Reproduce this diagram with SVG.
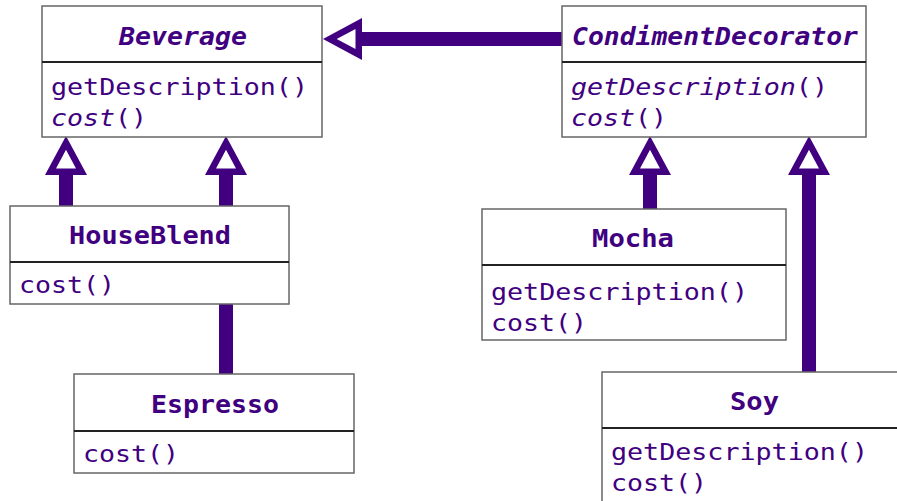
<svg xmlns="http://www.w3.org/2000/svg" width="897" height="501" viewBox="0 0 897 501">
<style>
.box{fill:#fff;stroke:#666;stroke-width:1.5}
.div{stroke:#222;stroke-width:2}
.t{font-family:"DejaVu Sans Mono","Liberation Mono",monospace;fill:#400080}
.title{font-size:24px;font-weight:bold}
.m{font-size:23px}
.i{font-style:italic}
.u{font-style:normal}
.edge{stroke:#400080;stroke-width:14;fill:none;marker-end:url(#gen)}
</style>
<defs>
<marker id="gen" markerUnits="userSpaceOnUse" orient="auto" refX="0" refY="0" markerWidth="44" markerHeight="46" overflow="visible">
<path d="M0,-21 L39,0 L0,21 Z" fill="#400080"/>
<path d="M6.5,-10 L25.3,0 L6.5,10 Z" fill="#fff"/>
</marker>
</defs>
<rect width="897" height="501" fill="#fff"/>
<g id="connectors">
<line class="edge" x1="562" y1="39" x2="362" y2="39"/>
<line class="edge" x1="66" y1="206" x2="66" y2="175"/>
<line class="edge" x1="226" y1="374" x2="226" y2="175"/>
<line class="edge" x1="650" y1="209" x2="650" y2="175"/>
<line class="edge" x1="809" y1="372" x2="809" y2="175"/>
</g>
<g id="Beverage">
<rect class="box" x="42" y="6" width="280" height="131"/>
<line class="div" x1="42" y1="62" x2="322" y2="62"/>
<text class="t title i" x="119" y="45" textLength="128" lengthAdjust="spacingAndGlyphs">Beverage</text>
<text class="t m" x="51" y="95" textLength="257" lengthAdjust="spacingAndGlyphs">getDescription()</text>
<text class="t m" x="51" y="126" textLength="96" lengthAdjust="spacingAndGlyphs"><tspan class="i">cost</tspan>()</text>
</g>
<g id="CondimentDecorator">
<rect class="box" x="562" y="6" width="304" height="131"/>
<line class="div" x1="562" y1="62" x2="866" y2="62"/>
<text class="t title i" x="572" y="45" textLength="286" lengthAdjust="spacingAndGlyphs">CondimentDecorator</text>
<text class="t m" x="571" y="95" textLength="257" lengthAdjust="spacingAndGlyphs"><tspan class="i">getDescription</tspan>()</text>
<text class="t m" x="571" y="126" textLength="96" lengthAdjust="spacingAndGlyphs"><tspan class="i">cost</tspan>()</text>
</g>
<g id="HouseBlend">
<rect class="box" x="10" y="206" width="279" height="98"/>
<line class="div" x1="10" y1="262" x2="289" y2="262"/>
<text class="t title" x="69" y="244" textLength="162" lengthAdjust="spacingAndGlyphs">HouseBlend</text>
<text class="t m" x="19" y="293" textLength="96" lengthAdjust="spacingAndGlyphs">cost()</text>
</g>
<g id="Espresso">
<rect class="box" x="74" y="374" width="280" height="99"/>
<line class="div" x1="74" y1="431" x2="354" y2="431"/>
<text class="t title" x="151" y="413" textLength="128" lengthAdjust="spacingAndGlyphs">Espresso</text>
<text class="t m" x="83" y="462" textLength="96" lengthAdjust="spacingAndGlyphs">cost()</text>
</g>
<g id="Mocha">
<rect class="box" x="482" y="209" width="304" height="131"/>
<line class="div" x1="482" y1="265" x2="786" y2="265"/>
<text class="t title" x="592" y="247" textLength="82" lengthAdjust="spacingAndGlyphs">Mocha</text>
<text class="t m" x="491" y="300" textLength="257" lengthAdjust="spacingAndGlyphs">getDescription()</text>
<text class="t m" x="491" y="331" textLength="96" lengthAdjust="spacingAndGlyphs">cost()</text>
</g>
<g id="Soy">
<rect class="box" x="602" y="372" width="304" height="140"/>
<line class="div" x1="602" y1="428" x2="906" y2="428"/>
<text class="t title" x="730" y="410" textLength="49" lengthAdjust="spacingAndGlyphs">Soy</text>
<text class="t m" x="611" y="460" textLength="257" lengthAdjust="spacingAndGlyphs">getDescription()</text>
<text class="t m" x="611" y="491" textLength="96" lengthAdjust="spacingAndGlyphs">cost()</text>
</g>
</svg>
